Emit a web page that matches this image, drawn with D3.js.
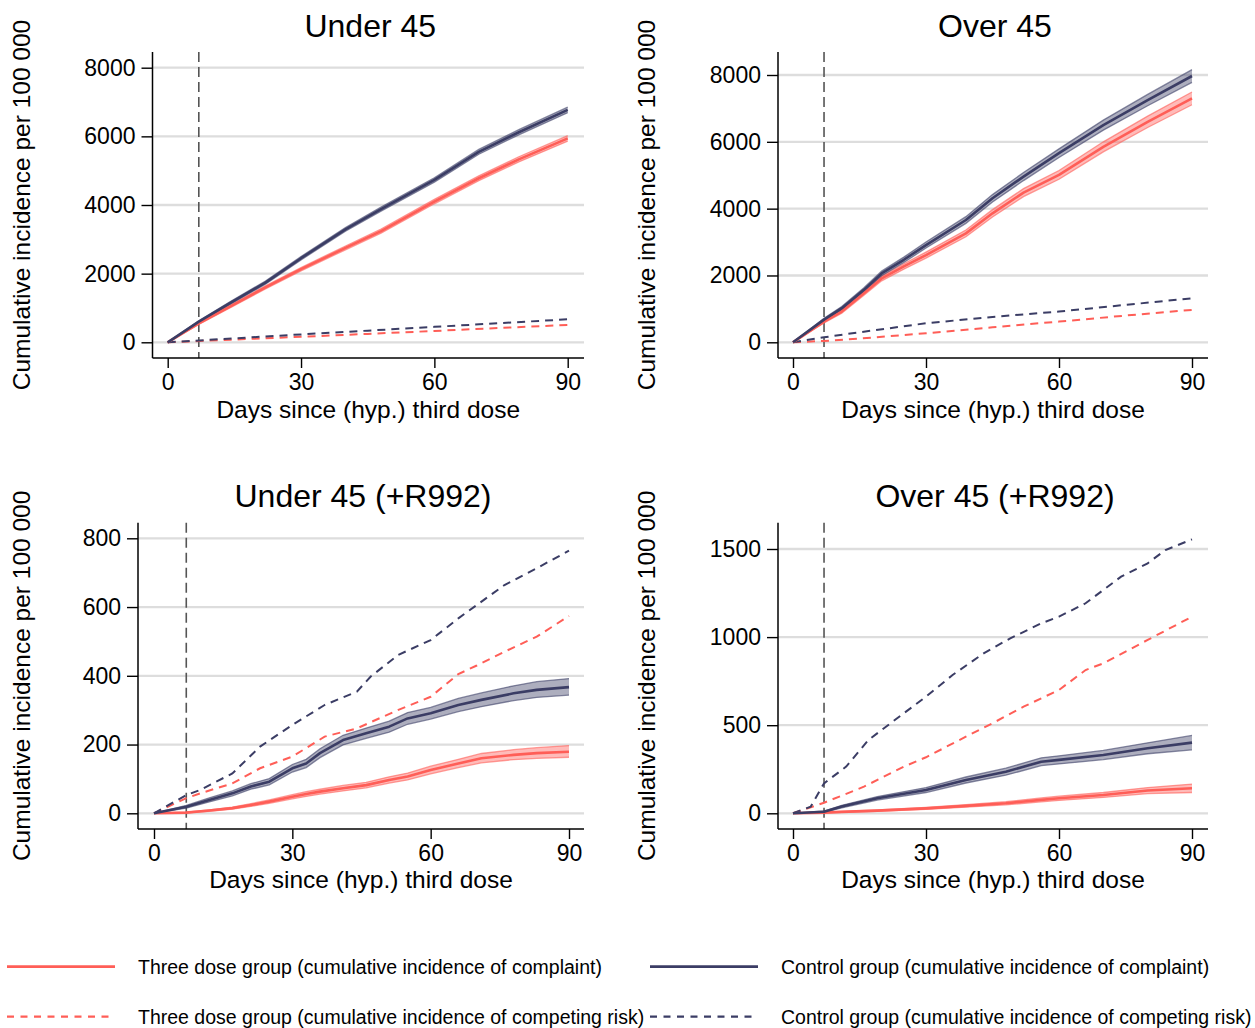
<!DOCTYPE html>
<html><head><meta charset="utf-8">
<script src="https://cdn.jsdelivr.net/npm/d3@7"></script>
<style>
body{margin:0;background:#fff}
text{font-family:"Liberation Sans",Arial,Helvetica,sans-serif;fill:#000}
</style>
</head><body>
<svg id="chart" width="1255" height="1028"></svg>
<script>
// ---------------- DATA ----------------
const xTicks = [0, 30, 60, 90];
const yTicksA = [0, 2000, 4000, 6000, 8000];
const yTicksB = [0, 2000, 4000, 6000, 8000];
const yTicksC = [0, 200, 400, 600, 800];
const yTicksD = [0, 500, 1000, 1500];
const titles = ["Under 45", "Over 45", "Under 45 (+R992)", "Over 45 (+R992)"];
const xTitle = "Days since (hyp.) third dose";
const yTitle = "Cumulative incidence per 100 000";
const legendLabels = [
  "Three dose group (cumulative incidence of complaint)",
  "Control group (cumulative incidence of complaint)",
  "Three dose group (cumulative incidence of competing risk)",
  "Control group (cumulative incidence of competing risk)"
];
const cutoffDay = 7;

// Panel A: Under 45
const A_days = [0, 7, 14, 22, 30, 40, 48, 60, 70, 79, 90];
const A_ctrl = [0, 600, 1140, 1740, 2450, 3290, 3880, 4730, 5550, 6120, 6770];
const A_ctrl_lo = [0, 570, 1100, 1695, 2400, 3235, 3820, 4665, 5480, 6045, 6690];
const A_ctrl_hi = [0, 630, 1180, 1785, 2500, 3345, 3940, 4795, 5620, 6195, 6850];
const A_three = [0, 550, 1040, 1600, 2130, 2750, 3240, 4100, 4780, 5330, 5940];
const A_three_lo = [0, 520, 1000, 1555, 2080, 2695, 3180, 4035, 4710, 5255, 5860];
const A_three_hi = [0, 580, 1080, 1645, 2180, 2805, 3300, 4165, 4850, 5405, 6020];
const A_comp_days = [0, 15, 30, 45, 60, 75, 90];
const A_comp_ctrl = [0, 115, 230, 340, 450, 560, 670];
const A_comp_three = [0, 80, 160, 245, 330, 420, 505];

// Panel B: Over 45
const B_days = [0, 7, 11, 16, 20, 25, 30, 39, 45, 52, 60, 70, 80, 90];
const B_ctrl = [0, 680, 1020, 1570, 2060, 2470, 2910, 3660, 4310, 4960, 5660, 6500, 7250, 7970];
const B_ctrl_lo = [0, 640, 970, 1510, 1990, 2390, 2820, 3560, 4200, 4840, 5530, 6350, 7080, 7780];
const B_ctrl_hi = [0, 720, 1070, 1630, 2130, 2550, 3000, 3760, 4420, 5080, 5790, 6650, 7420, 8160];
const B_three = [0, 620, 920, 1470, 1910, 2270, 2610, 3260, 3860, 4480, 5010, 5850, 6600, 7300];
const B_three_lo = [0, 580, 870, 1410, 1840, 2190, 2520, 3160, 3750, 4360, 4880, 5700, 6430, 7110];
const B_three_hi = [0, 660, 970, 1530, 1980, 2350, 2700, 3360, 3970, 4600, 5140, 6000, 6770, 7490];
const B_comp_days = [0, 7, 15, 30, 45, 60, 75, 90];
const B_comp_ctrl = [0, 150, 300, 570, 760, 920, 1120, 1317];
const B_comp_three = [0, 40, 110, 270, 450, 620, 800, 970];

// Panel C: Under 45 (+R992)
const C_days = [0, 7, 12, 17, 21, 25, 30, 33, 36, 41, 46, 51, 55, 60, 66, 71, 78, 83, 90];
const C_ctrl = [0, 19, 39, 58, 78, 92, 131, 145, 175, 213, 233, 252, 276, 291, 315, 330, 349, 359, 367];
const C_ctrl_lo = [0, 15, 33, 51, 70, 83, 120, 133, 162, 199, 218, 236, 259, 274, 296, 310, 328, 337, 344];
const C_ctrl_hi = [0, 23, 45, 65, 86, 101, 142, 157, 188, 227, 248, 268, 293, 308, 334, 350, 371, 383, 392];
const C_three = [0, 2, 8, 15, 24, 34, 48, 56, 63, 73, 82, 97, 107, 126, 145, 160, 170, 175, 179];
const C_three_lo = [0, 1, 6, 12, 20, 29, 42, 49, 56, 65, 74, 88, 97, 115, 133, 147, 156, 160, 163];
const C_three_hi = [0, 3, 10, 18, 28, 39, 54, 63, 70, 81, 90, 106, 117, 137, 157, 174, 185, 191, 197];
const C_comp_days = [0, 7, 10, 17, 23, 30, 37, 44, 47, 53, 60, 66, 70, 76, 83, 90];
const C_comp_ctrl = [0, 53, 68, 116, 194, 257, 315, 354, 398, 461, 504, 567, 606, 664, 713, 764];
const C_comp_three = [0, 44, 58, 87, 131, 165, 223, 247, 265, 301, 339, 405, 430, 470, 514, 574];

// Panel D: Over 45 (+R992)
const D_days = [0, 7, 11, 19, 30, 39, 48, 56, 60, 70, 80, 90];
const D_ctrl = [0, 9, 38, 85, 132, 189, 236, 293, 303, 331, 369, 401];
const D_ctrl_lo = [0, 5, 31, 75, 118, 172, 216, 271, 280, 305, 338, 360];
const D_ctrl_hi = [0, 13, 45, 95, 146, 206, 256, 315, 326, 357, 400, 442];
const D_three = [0, 4, 8, 15, 28, 42, 57, 76, 85, 104, 129, 142];
const D_three_lo = [0, 2, 5, 11, 22, 35, 48, 65, 73, 90, 112, 118];
const D_three_hi = [0, 6, 11, 19, 34, 49, 66, 87, 97, 118, 146, 166];
const D_comp_ctrl_days = [0, 4, 7, 12, 17, 22, 30, 36, 43, 49, 56, 60, 66, 74, 80, 84, 90];
const D_comp_ctrl = [0, 38, 170, 265, 416, 511, 662, 785, 908, 993, 1078, 1116, 1192, 1343, 1419, 1494, 1555];
const D_comp_three_days = [0, 7, 16, 25, 30, 39, 45, 52, 60, 66, 70, 80, 90];
const D_comp_three = [0, 60, 151, 265, 318, 435, 511, 605, 700, 813, 851, 984, 1116];

// ---------------- STYLE / LAYOUT ----------------
const RED = "#ff5e57", NAVY = "#3b3d65";
const FONT_TICK = 23, FONT_AXT = 24.5, FONT_TITLE = 32, FONT_LEG = 19.5;

const zip = (days, est, lo, hi) => days.map((d, i) => ({day: d, v: est[i], lo: lo ? lo[i] : null, hi: hi ? hi[i] : null}));

const panels = [
  {title: titles[0], yTicks: yTicksA, left: 152.5, right: 584, top: 52, bottom: 358, x0: 167.7, x90: 567.7, yZero: 342.3, yTopPx: 67.7, oy: 0, ytx: 30,
   solid: [{d: zip(A_days, A_three, A_three_lo, A_three_hi), c: RED}, {d: zip(A_days, A_ctrl, A_ctrl_lo, A_ctrl_hi), c: NAVY}],
   dashed: [{d: zip(A_comp_days, A_comp_three), c: RED}, {d: zip(A_comp_days, A_comp_ctrl), c: NAVY}]},
  {title: titles[1], yTicks: yTicksB, left: 778, right: 1208, top: 52, bottom: 358, x0: 793, x90: 1192, yZero: 342.3, yTopPx: 75, oy: 0, ytx: 655,
   solid: [{d: zip(B_days, B_three, B_three_lo, B_three_hi), c: RED}, {d: zip(B_days, B_ctrl, B_ctrl_lo, B_ctrl_hi), c: NAVY}],
   dashed: [{d: zip(B_comp_days, B_comp_three), c: RED}, {d: zip(B_comp_days, B_comp_ctrl), c: NAVY}]},
  {title: titles[2], yTicks: yTicksC, left: 138, right: 584, top: 522.7, bottom: 829, x0: 154, x90: 569, yZero: 813.3, yTopPx: 538.3, oy: 470, ytx: 30,
   solid: [{d: zip(C_days, C_three, C_three_lo, C_three_hi), c: RED}, {d: zip(C_days, C_ctrl, C_ctrl_lo, C_ctrl_hi), c: NAVY}],
   dashed: [{d: zip(C_comp_days, C_comp_three), c: RED}, {d: zip(C_comp_days, C_comp_ctrl), c: NAVY}]},
  {title: titles[3], yTicks: yTicksD, left: 778, right: 1208, top: 522.7, bottom: 829, x0: 793, x90: 1192, yZero: 813.3, yTopPx: 549, oy: 470, ytx: 655,
   solid: [{d: zip(D_days, D_three, D_three_lo, D_three_hi), c: RED}, {d: zip(D_days, D_ctrl, D_ctrl_lo, D_ctrl_hi), c: NAVY}],
   dashed: [{d: zip(D_comp_three_days, D_comp_three), c: RED}, {d: zip(D_comp_ctrl_days, D_comp_ctrl), c: NAVY}]}
];

const svg = d3.select("#chart");

panels.forEach(p => {
  const topTick = p.yTicks[p.yTicks.length - 1];
  const x = d3.scaleLinear().domain([0, 90]).range([p.x0, p.x90]);
  const y = d3.scaleLinear().domain([0, topTick]).range([p.yZero, p.yTopPx]);
  const g = svg.append("g");

  // gridlines
  g.selectAll(".grid").data(p.yTicks).join("line")
    .attr("x1", p.left).attr("x2", p.right)
    .attr("y1", d => y(d)).attr("y2", d => y(d))
    .attr("stroke", "#dddddd").attr("stroke-width", 2.3);

  // vertical cutoff line
  g.append("line").attr("x1", x(cutoffDay)).attr("x2", x(cutoffDay))
    .attr("y1", p.top).attr("y2", p.bottom)
    .attr("stroke", "#555").attr("stroke-width", 1.6).attr("stroke-dasharray", "10,5");

  // bands
  p.solid.forEach(s => {
    g.append("path").datum(s.d)
      .attr("d", d3.area().x(d => x(d.day)).y0(d => y(d.lo)).y1(d => y(d.hi)))
      .attr("fill", s.c).attr("fill-opacity", 0.42).attr("stroke", "none");
    ["lo", "hi"].forEach(k => {
      g.append("path").datum(s.d)
        .attr("d", d3.line().x(d => x(d.day)).y(d => y(d[k])))
        .attr("fill", "none").attr("stroke", s.c).attr("stroke-opacity", 0.6).attr("stroke-width", 1.3);
    });
  });
  // competing risk dashed
  p.dashed.forEach(s => {
    g.append("path").datum(s.d)
      .attr("d", d3.line().x(d => x(d.day)).y(d => y(d.v)))
      .attr("fill", "none").attr("stroke", s.c).attr("stroke-width", 2)
      .attr("stroke-dasharray", "8,6");
  });
  // main lines
  p.solid.forEach(s => {
    g.append("path").datum(s.d)
      .attr("d", d3.line().x(d => x(d.day)).y(d => y(d.v)))
      .attr("fill", "none").attr("stroke", s.c).attr("stroke-width", 2.6)
      .attr("stroke-linejoin", "round");
  });

  // axes
  const ya = g.append("g").attr("transform", `translate(${p.left},0)`)
    .call(d3.axisLeft(y).tickValues(p.yTicks).tickSize(11).tickPadding(6).tickSizeOuter(0).tickFormat(d3.format("d")));
  ya.select(".domain").remove();
  ya.selectAll("text").attr("font-size", FONT_TICK).style("font-family", '"Liberation Sans",Arial,sans-serif').attr("fill", "#000");
  ya.selectAll("line").attr("stroke", "#000").attr("stroke-width", 1.4);

  const xa = g.append("g").attr("transform", `translate(0,${p.bottom})`)
    .call(d3.axisBottom(x).tickValues(xTicks).tickSize(10).tickPadding(6).tickSizeOuter(0));
  xa.select(".domain").remove();
  xa.selectAll("text").attr("font-size", FONT_TICK).style("font-family", '"Liberation Sans",Arial,sans-serif').attr("fill", "#000");
  xa.selectAll("line").attr("stroke", "#000").attr("stroke-width", 1.4);

  // axis lines
  g.append("line").attr("x1", p.left).attr("x2", p.left).attr("y1", p.top).attr("y2", p.bottom)
    .attr("stroke", "#000").attr("stroke-width", 1.5);
  g.append("line").attr("x1", p.left).attr("x2", p.right).attr("y1", p.bottom).attr("y2", p.bottom)
    .attr("stroke", "#000").attr("stroke-width", 1.5);

  const cx = (p.left + p.right) / 2;
  // titles
  g.append("text").attr("x", cx + 2).attr("y", 37 + p.oy).attr("text-anchor", "middle")
    .attr("font-size", FONT_TITLE).text(p.title);
  g.append("text").attr("x", cx).attr("y", 418 + p.oy).attr("text-anchor", "middle")
    .attr("font-size", FONT_AXT).text(xTitle);
  g.append("text").attr("transform", `translate(${p.ytx},${(p.top + p.bottom) / 2}) rotate(-90)`)
    .attr("text-anchor", "middle").attr("font-size", FONT_AXT).text(yTitle);
});

// legend
const legItems = [
  {x: 7, y: 966.7, c: RED, dash: null, label: legendLabels[0]},
  {x: 650, y: 966.7, c: NAVY, dash: null, label: legendLabels[1]},
  {x: 7, y: 1016.7, c: RED, dash: "7,6.5", label: legendLabels[2]},
  {x: 650, y: 1016.7, c: NAVY, dash: "7,6.5", label: legendLabels[3]}
];
const lg = svg.append("g");
legItems.forEach(it => {
  const l = lg.append("line").attr("x1", it.x).attr("x2", it.x + 108).attr("y1", it.y).attr("y2", it.y)
    .attr("stroke", it.c).attr("stroke-width", it.dash ? 2.2 : 2.8);
  if (it.dash) l.attr("stroke-dasharray", it.dash);
  lg.append("text").attr("x", it.x + 131).attr("y", it.y + 7).attr("font-size", FONT_LEG).text(it.label);
});
</script>
</body></html>
